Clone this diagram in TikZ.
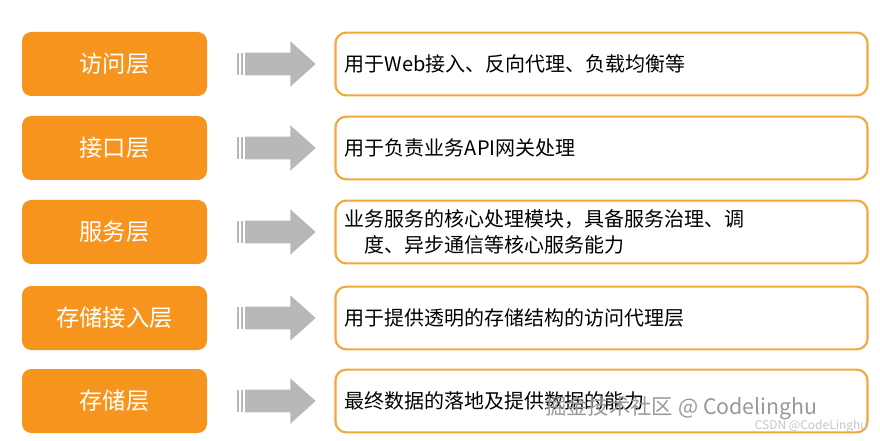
\documentclass[tikz,border=0pt]{standalone}
\usepackage{fontspec}
\setmainfont{Noto Sans CJK SC}
\begin{document}
\begin{tikzpicture}[x=0.75pt,y=-0.75pt,
  layer/.style={fill=LayerOr, rounded corners=7pt, minimum width=138.75pt, minimum height=48pt, text=white, font=\fontsize{17.5}{19}\selectfont, inner sep=0pt},
  desc/.style={draw=DescOr, line width=1.6pt, fill=white, rounded corners=8pt, minimum width=399pt, minimum height=47pt, text width=385pt, align=left, font=\fontsize{15}{19.5}\selectfont, inner sep=6pt},
  arr/.style={fill=ArrGray, draw=none}]
\definecolor{LayerOr}{HTML}{F7941D}
\definecolor{DescOr}{HTML}{F2A83A}
\definecolor{ArrGray}{HTML}{B8B8B8}
\useasboundingbox (0,0) rectangle (880,441);
\fill[white] (0,0) rectangle (880,441);
\foreach \i/\y/\l/\t in {1/64/访问层/{用于Web接入、反向代理、负载均衡等},
  2/148/接口层/{用于负责业务API网关处理},
  3/232/服务层/{业务服务的核心处理模块，具备服务治理、调\\\hspace*{1em}度、异步通信等核心服务能力},
  4/318/存储接入层/{用于提供透明的存储结构的访问代理层},
  5/401/存储层/{最终数据的落地及提供数据的能力}}{
  \node[layer] (L\i) at (114.5,\y) {\l};
  \node[desc] (D\i) at (601.5,\y) {\t};
  \coordinate (A\i) at (237,\y);
  \fill[arr] ([yshift=-8.5]A\i) rectangle ([xshift=1.5,yshift=8.5]A\i);
  \fill[arr] ([xshift=3,yshift=-8.5]A\i) rectangle ([xshift=4.5,yshift=8.5]A\i);
  \fill[arr] ([xshift=6,yshift=-8.5]A\i) -- ([xshift=40,yshift=-8.5]A\i) -- ([xshift=40,yshift=-17]A\i) -- ([xshift=59,yshift=0]A\i) -- ([xshift=40,yshift=17]A\i) -- ([xshift=40,yshift=8.5]A\i) -- ([xshift=6,yshift=8.5]A\i) -- cycle;
}
\node[anchor=west, text=gray!80, font=\fontsize{16}{18}\selectfont, inner sep=0pt] (wm) at (545,408) {掘金技术社区 @ Codelinghu};
\node[anchor=east, text=gray!45, font=\fontsize{9}{11}\selectfont, inner sep=0pt] (wm2) at (868,426) {CSDN @CodeLinghu};
\end{tikzpicture}
\end{document}
